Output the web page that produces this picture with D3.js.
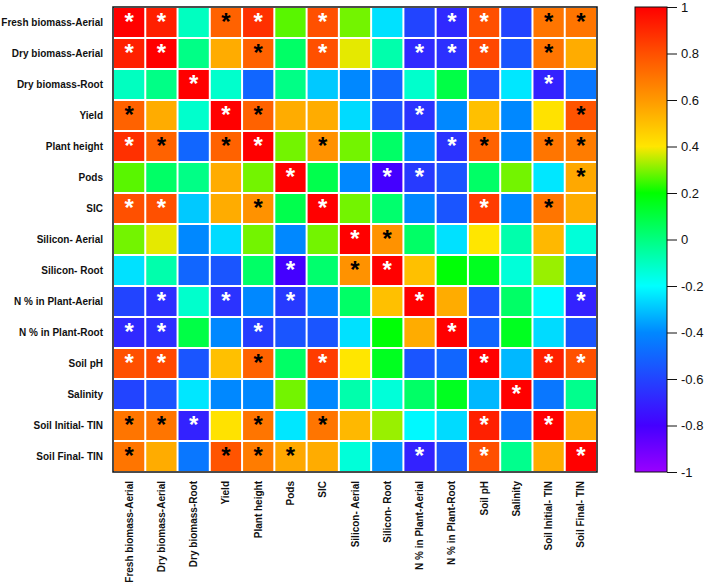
<!DOCTYPE html>
<html><head><meta charset="utf-8">
<script src="https://cdn.jsdelivr.net/npm/d3@7"></script>
<style>html,body{margin:0;padding:0;background:#fff;}svg{display:block;}</style>
</head><body><svg id="c" width="708" height="583"></svg>
<script>
const categories = ["Fresh biomass-Aerial","Dry biomass-Aerial","Dry biomass-Root","Yield","Plant height","Pods","SIC","Silicon- Aerial","Silicon- Root","N % in Plant-Aerial","N % in Plant-Root","Soil pH","Salinity","Soil Initial- TIN","Soil Final- TIN"];

// correlation matrix, rows top->bottom, columns left->right
const corr = [
 [1.00, 0.92,-0.10, 0.75, 0.88, 0.27, 0.80, 0.29,-0.25,-0.60,-0.68, 0.80,-0.60, 0.70, 0.70],
 [0.92, 1.00,-0.01, 0.55, 0.75, 0.04, 0.80, 0.38,-0.07,-0.68,-0.66, 0.82,-0.55, 0.70, 0.55],
 [-0.10,-0.01, 1.00,-0.12,-0.50,-0.01,-0.29,-0.40,-0.50,-0.12, 0.09,-0.55,-0.24,-0.70,-0.45],
 [0.75, 0.55,-0.12, 1.00, 0.75, 0.55, 0.55,-0.26,-0.55,-0.65,-0.40, 0.50,-0.40, 0.41, 0.79],
 [0.88, 0.75,-0.50, 0.75, 1.00, 0.29, 0.62, 0.29, 0.04,-0.40,-0.65, 0.75,-0.40, 0.70, 0.68],
 [0.27, 0.04,-0.01, 0.55, 0.29, 1.00, 0.08,-0.40,-0.80,-0.63,-0.55, 0.04, 0.29,-0.24, 0.56],
 [0.80, 0.80,-0.29, 0.55, 0.62, 0.08, 1.00, 0.29, 0.03,-0.40,-0.55, 0.85,-0.40, 0.70, 0.55],
 [0.29, 0.38,-0.40,-0.26, 0.29,-0.40, 0.29, 1.00, 0.62, 0.04,-0.25, 0.40,-0.07, 0.52,-0.14],
 [-0.25,-0.07,-0.50,-0.55, 0.04,-0.80, 0.03, 0.62, 1.00, 0.50, 0.19, 0.15,-0.14, 0.32,-0.38],
 [-0.60,-0.66,-0.12,-0.65,-0.40,-0.63,-0.40, 0.04, 0.50, 1.00, 0.55,-0.55, 0.04,-0.21,-0.70],
 [-0.68,-0.66, 0.09,-0.40,-0.62,-0.55,-0.55,-0.25, 0.19, 0.55, 1.00,-0.50, 0.15,-0.26,-0.55],
 [0.80, 0.82,-0.55, 0.50, 0.75, 0.04, 0.85, 0.40, 0.15,-0.55,-0.50, 1.00,-0.32, 0.92, 0.80],
 [-0.60,-0.55,-0.24,-0.40,-0.40, 0.29,-0.40,-0.07,-0.14, 0.04, 0.15,-0.32, 1.00,-0.45,-0.02],
 [0.70, 0.70,-0.70, 0.41, 0.70,-0.24, 0.70, 0.52, 0.32,-0.21,-0.26, 0.92,-0.45, 1.00, 0.55],
 [0.70, 0.55,-0.45, 0.79, 0.68, 0.56, 0.55,-0.14,-0.38,-0.70,-0.55, 0.80,-0.02, 0.55, 1.00]
];

// significance marks: 0 none, 1 black star, 2 white star
const signif = [
 [2,2,0,1,2,0,2,0,0,0,2,2,0,1,1],
 [2,2,0,0,1,0,2,0,0,2,2,2,0,1,0],
 [0,0,2,0,0,0,0,0,0,0,0,0,0,2,0],
 [1,0,0,2,1,0,0,0,0,2,0,0,0,0,1],
 [2,1,0,1,2,0,1,0,0,0,2,1,0,1,1],
 [0,0,0,0,0,2,0,0,2,2,0,0,0,0,1],
 [2,2,0,0,1,0,2,0,0,0,0,2,0,1,0],
 [0,0,0,0,0,0,0,2,1,0,0,0,0,0,0],
 [0,0,0,0,0,2,0,1,2,0,0,0,0,0,0],
 [0,2,0,2,0,2,0,0,0,2,0,0,0,0,2],
 [2,2,0,0,2,0,0,0,0,0,2,0,0,0,0],
 [2,2,0,0,1,0,2,0,0,0,0,2,0,2,2],
 [0,0,0,0,0,0,0,0,0,0,0,0,2,0,0],
 [1,1,2,0,1,0,1,0,0,0,0,2,0,2,0],
 [1,0,0,1,1,1,0,0,0,2,0,2,0,0,2]
];

const colorStops = [1, 0.8, 0.6, 0.4, 0.2, 0, -0.2, -0.4, -0.6, -0.8, -1];
const colorValues = ["#ff0000","#ff5000","#ff9900","#ffe600","#00ff00","#00ff80","#00ffff","#0088ff","#2244ff","#4400ff","#9900ff"];
const legendTicks = [1, 0.8, 0.6, 0.4, 0.2, 0, -0.2, -0.4, -0.6, -0.8, -1];
const legendTickLabels = ["1","0.8","0.6","0.4","0.2","0","-0.2","-0.4","-0.6","-0.8","-1"];

const svg = d3.select("#c");
const gx0 = 113, gx1 = 597, gy0 = 7, gy1 = 472;
const color = d3.scaleLinear().domain(colorStops).range(colorValues).clamp(true);
const x = d3.scaleBand().domain(categories).range([gx0, gx1]);
const y = d3.scaleBand().domain(categories).range([gy0, gy1]);

const cells = [];
corr.forEach((row, i) => row.forEach((v, j) => cells.push({r: categories[i], c: categories[j], v, s: signif[i][j]})));

svg.append("g").selectAll("rect").data(cells).join("rect")
  .attr("x", d => x(d.c) + 1).attr("y", d => y(d.r) + 1)
  .attr("width", x.bandwidth() - 2).attr("height", y.bandwidth() - 2)
  .attr("fill", d => color(d.v));

svg.append("g").selectAll("text").data(cells.filter(d => d.s > 0)).join("text")
  .attr("x", d => x(d.c) + x.bandwidth() / 2)
  .attr("y", d => y(d.r) + 23)
  .attr("text-anchor", "middle")
  .attr("font-family", "Liberation Sans, Arial, sans-serif")
  .attr("font-weight", "bold").attr("font-size", 24)
  .attr("fill", d => d.s === 2 ? "#ffffff" : "#000000")
  .text("*");

svg.append("rect").attr("x", gx0).attr("y", gy0).attr("width", gx1 - gx0).attr("height", gy1 - gy0)
  .attr("fill", "none").attr("stroke", "#111").attr("stroke-width", 1.5);

// row labels
svg.append("g").selectAll("text").data(categories).join("text")
  .attr("x", 103).attr("y", d => y(d) + y.bandwidth() / 2)
  .attr("dy", "0.35em").attr("text-anchor", "end")
  .attr("font-family", "Liberation Sans, Arial, sans-serif")
  .attr("font-weight", "bold").attr("font-size", 10).attr("fill", "#111")
  .text(d => d);

// column labels
svg.append("g").selectAll("text").data(categories).join("text")
  .attr("transform", d => `translate(${x(d) + x.bandwidth() / 2},481) rotate(-90)`)
  .attr("dy", "0.35em").attr("text-anchor", "end")
  .attr("font-family", "Liberation Sans, Arial, sans-serif")
  .attr("font-weight", "bold").attr("font-size", 10).attr("fill", "#111")
  .text(d => d);

// color legend
const lx0 = 635, lx1 = 667;
const ly = d3.scaleLinear().domain([-1, 1]).range([gy1, gy0]);
const defs = svg.append("defs");
const grad = defs.append("linearGradient").attr("id", "lg").attr("x1", 0).attr("x2", 0).attr("y1", 0).attr("y2", 1);
colorStops.forEach((s, i) => grad.append("stop").attr("offset", (1 - s) / 2).attr("stop-color", colorValues[i]));
svg.append("rect").attr("x", lx0).attr("y", gy0).attr("width", lx1 - lx0).attr("height", gy1 - gy0)
  .attr("fill", "url(#lg)").attr("stroke", "#111").attr("stroke-width", 1);

const axis = d3.axisRight(ly).tickValues(legendTicks).tickSize(10).tickPadding(4)
  .tickFormat((d, i) => legendTickLabels[i]);
const ag = svg.append("g").attr("transform", `translate(${lx1},0)`).call(axis);
ag.select(".domain").remove();
ag.selectAll("line").attr("stroke", "#111");
ag.selectAll("text").attr("font-family", "Liberation Sans, Arial, sans-serif").attr("font-size", 13).attr("fill", "#111");
</script></body></html>
